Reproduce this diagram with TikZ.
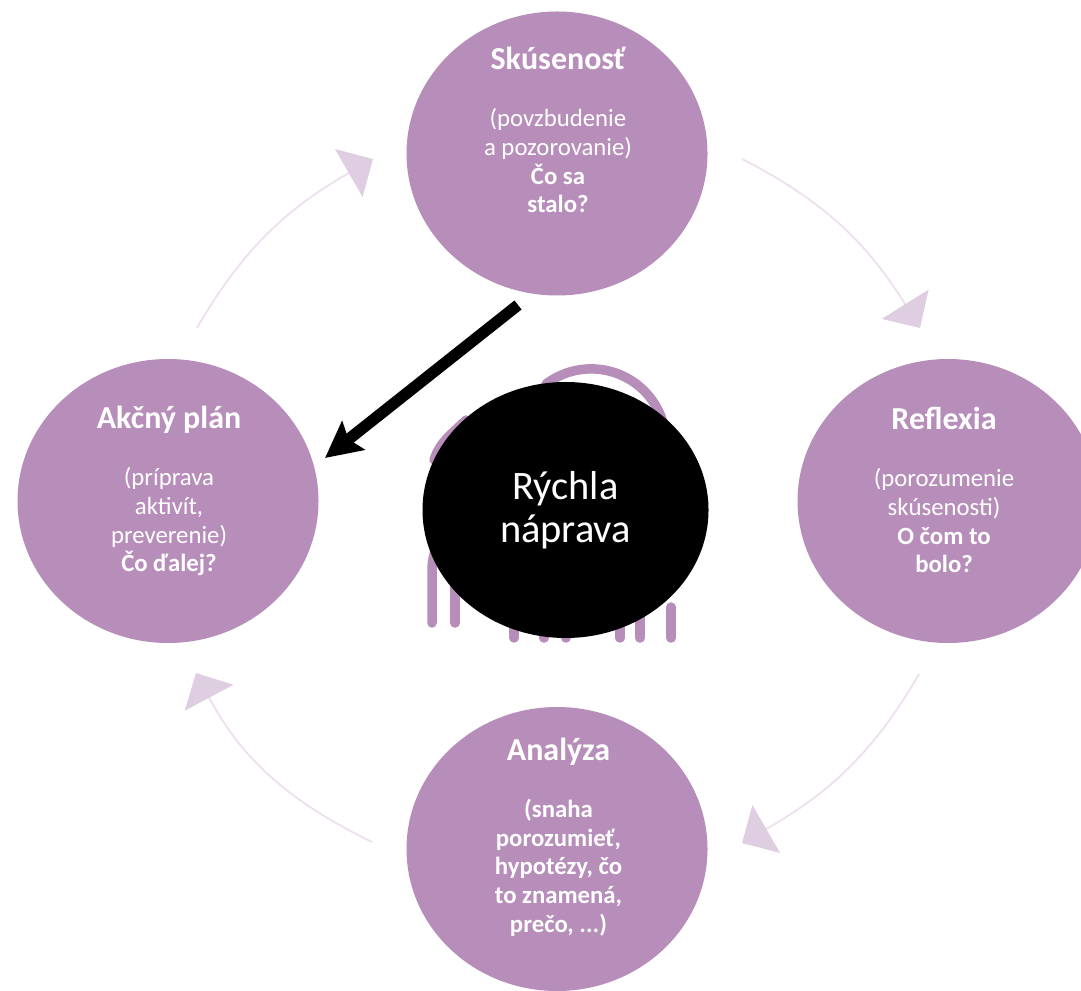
\documentclass[tikz,border=0pt]{standalone}
\usepackage{fontspec}
\setmainfont{Carlito}
\usetikzlibrary{arrows.meta}
\usetikzlibrary{shapes}
\definecolor{plum}{HTML}{B78DBA}
\definecolor{plumhead}{HTML}{DFCDE1}
\definecolor{plumline}{HTML}{EDDFEE}
\newcommand{\headfont}{\fontsize{9.1}{8.25}\selectfont\bfseries}
\tikzset{
  stage/.style={ellipse, fill=plum, inner sep=0pt, minimum width=3.01cm, minimum height=2.84cm},
  stagetext/.style={text=white, align=center, font=\fontsize{7.05}{8.15}\selectfont},
  cycle/.style={draw=plumline, line width=0.5pt, -{Triangle[length=0.28cm, width=0.55cm, color=plumhead]}},
  icon/.style={draw=plum, line width=0.095cm, line cap=round},
}
\begin{document}
\begin{tikzpicture}
    \clip (0, 0) rectangle (10.81, 9.9);
    % four stages
    \node[stage] (skusenost) at (5.57, 8.365) {};
    \node[stage] (plan) at (1.68, 4.89) {};
    \node[stage] (reflexia) at (9.48, 4.89) {};
    \node[stage] (analyza) at (5.57, 1.41) {};
    \node[stagetext] (skusenosttext) at (5.58, 8.6) {{\headfont Skúsenosť}\\ \\(povzbudenie\\a pozorovanie)\\\textbf{Čo sa}\\\textbf{stalo?}};
    \node[stagetext] (plantext) at (1.69, 4.99) {{\headfont Akčný plán}\\ \\(príprava\\aktivít,\\preverenie)\\\textbf{Čo ďalej?}};
    \node[stagetext] (reflexiatext) at (9.44, 5.0) {{\headfont Reflexia}\\ \\(porozumenie\\skúsenosti)\\\textbf{O čom to}\\\textbf{bolo?}};
    \node[stagetext, font=\fontsize{7.05}{8.15}\selectfont\bfseries] (analyzatext) at (5.585, 1.53) {{\headfont Analýza}\\ \\(snaha\\porozumieť,\\hypotézy, čo\\to znamená,\\prečo, ...)};
    % cycle arrows
    \coordinate (a1) at (7.42, 8.31);
    \coordinate (a2) at (9.2, 6.62);
    \coordinate (b1) at (9.19, 3.16);
    \coordinate (b2) at (7.42, 1.47);
    \coordinate (c1) at (3.72, 1.48);
    \coordinate (c2) at (1.96, 3.17);
    \coordinate (d1) at (1.97, 6.62);
    \coordinate (d2) at (3.73, 8.31);
    \draw[cycle] (a1) to[out=-27, in=122] (a2);
    \draw[cycle] (b1) to[out=-120, in=30] (b2);
    \draw[cycle] (c1) to[out=154, in=-62] (c2);
    \draw[cycle] (d1) to[out=60, in=210] (d2);
    % icon behind the centre
    \draw[icon] (5.46, 6.06) arc (127:0:0.75);
    \draw[icon] (4.34, 5.3) to[out=72, in=225] (4.66, 5.7);
    \draw[icon] (4.32, 3.67) -- (4.32, 4.2) to[out=90, in=180] (4.6, 4.6);
    \draw[icon] (4.55, 3.67) -- (4.55, 4.2);
    \foreach \x in {5.14, 5.44, 5.66, 6.2, 6.4} {
      \draw[icon] (\x, 3.52) -- (\x, 3.9);
    }
    \draw[icon] (6.71, 3.52) -- (6.71, 3.83);
    % centre
    \node[ellipse, fill=black, minimum width=2.86cm, minimum height=2.56cm, inner sep=0pt] (naprava) at (5.655, 4.8) {};
    \node[text=white, align=center, font=\fontsize{11.5}{12.3}\selectfont] (napravatext) at (5.655, 4.8) {Rýchla\\náprava};
    % shortcut
    \coordinate (s1) at (5.18, 6.85);
    \coordinate (s2) at (3.25, 5.32);
    \draw[line width=0.115cm, -{Stealth[length=0.36cm, width=0.36cm, inset=0.06cm]}] (s1) -- (s2);
  \end{tikzpicture}
\end{document}
